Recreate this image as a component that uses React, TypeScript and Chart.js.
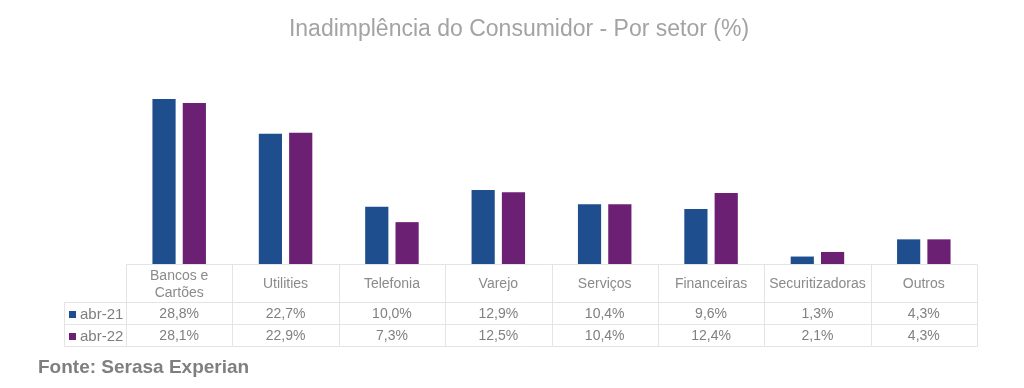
import React, { useEffect, useRef } from "react";
import { Chart, registerables } from "chart.js";

Chart.register(...registerables);

const TITLE = "Inadimplência do Consumidor - Por setor (%)";
const SOURCE = "Fonte: Serasa Experian";
const categories: (string | string[])[] = [
  ["Bancos e", "Cartões"],
  "Utilities",
  "Telefonia",
  "Varejo",
  "Serviços",
  "Financeiras",
  "Securitizadoras",
  "Outros",
];
const seriesNames = ["abr-21", "abr-22"];
const abr21 = [28.8, 22.7, 10.0, 12.9, 10.4, 9.6, 1.3, 4.3];
const abr22 = [28.1, 22.9, 7.3, 12.5, 10.4, 12.4, 2.1, 4.3];
const seriesColors = ["#1F4E8E", "#6B2073"];

const FONT = "'Liberation Sans', Arial, sans-serif";

const fmt = (v: number) => v.toFixed(1).replace(".", ",") + "%";

const tablePlugin = {
  id: "dataTable",
  afterDraw(chart: any) {
    const ctx = chart.ctx as CanvasRenderingContext2D;
    const x = chart.scales.x;
    const area = chart.chartArea;
    const n = categories.length;
    const half = (x.getPixelForValue(1) - x.getPixelForValue(0)) / 2;
    const left = x.getPixelForValue(0) - half;
    const right = x.getPixelForValue(n - 1) + half;
    const top = Math.round(area.bottom) + 0.5;
    const headerBottom = top + 38;
    const row1Bottom = headerBottom + 22;
    const row2Bottom = row1Bottom + 22;
    const legendLeft = 64.5;

    ctx.save();
    ctx.strokeStyle = "#e4e4e4";
    ctx.lineWidth = 1;
    ctx.beginPath();
    ctx.moveTo(left, top);
    ctx.lineTo(right, top);
    for (const yy of [headerBottom, row1Bottom, row2Bottom]) {
      ctx.moveTo(legendLeft, yy);
      ctx.lineTo(right, yy);
    }
    ctx.moveTo(legendLeft, headerBottom);
    ctx.lineTo(legendLeft, row2Bottom);
    for (let i = 0; i <= n; i++) {
      const bx = Math.round(left + i * half * 2) + 0.5;
      ctx.moveTo(bx, top);
      ctx.lineTo(bx, row2Bottom);
    }
    ctx.stroke();

    // header labels
    ctx.textAlign = "center";
    ctx.textBaseline = "middle";
    ctx.font = `14px ${FONT}`;
    ctx.fillStyle = "#8a8a8a";
    const headerMid = (top + headerBottom) / 2 + 1;
    categories.forEach((c, i) => {
      const cx = x.getPixelForValue(i);
      const lines = Array.isArray(c) ? c : [c];
      const lh = 17;
      lines.forEach((ln, j) => {
        const yy = headerMid + (j - (lines.length - 1) / 2) * lh;
        ctx.fillText(ln, cx, yy);
      });
    });

    // values
    const rows = [abr21, abr22];
    const rowMids = [(headerBottom + row1Bottom) / 2 + 1, (row1Bottom + row2Bottom) / 2 + 1];
    ctx.fillStyle = "#808080";
    rows.forEach((vals, r) => {
      vals.forEach((v, i) => {
        ctx.fillText(fmt(v), x.getPixelForValue(i), rowMids[r]);
      });
    });

    // legend keys
    ctx.textAlign = "left";
    ctx.font = `15px ${FONT}`;
    seriesNames.forEach((name, r) => {
      ctx.fillStyle = seriesColors[r];
      ctx.fillRect(69, Math.round(rowMids[r]) - 4, 7, 7);
      ctx.fillStyle = "#7f7f7f";
      ctx.fillText(name, 80, rowMids[r]);
    });

    // source
    ctx.font = `bold 19px ${FONT}`;
    ctx.fillStyle = "#7f7f7f";
    ctx.fillText(SOURCE, 38, 368);
    ctx.restore();
  },
};

export default function App() {
  const ref = useRef<HTMLCanvasElement | null>(null);
  useEffect(() => {
    if (!ref.current) return;
    const chart = new Chart(ref.current, {
      type: "bar",
      data: {
        labels: categories as any,
        datasets: [
          {
            label: seriesNames[0],
            data: abr21,
            backgroundColor: seriesColors[0],
            categoryPercentage: 0.57,
            barPercentage: 0.765,
          },
          {
            label: seriesNames[1],
            data: abr22,
            backgroundColor: seriesColors[1],
            categoryPercentage: 0.57,
            barPercentage: 0.765,
          },
        ],
      },
      options: {
        responsive: false,
        animation: false,
        layout: { padding: { left: 14, right: 0, top: 0, bottom: 124 } },
        plugins: {
          legend: { display: false },
          tooltip: { enabled: false },
          title: {
            display: true,
            text: TITLE,
            color: "#a3a3a3",
            font: { family: FONT, size: 23, weight: "normal" as any, lineHeight: 1.2 },
            padding: { top: 16.2, bottom: 48.2 },
          },
        },
        scales: {
          x: { display: false },
          y: {
            display: true,
            position: "left",
            min: 0,
            max: 30,
            ticks: { display: false },
            grid: { display: false },
            border: { display: false },
            afterFit: (s: any) => {
              s.width = 112;
            },
          },
          y2: {
            type: "linear",
            display: true,
            position: "right",
            ticks: { display: false },
            grid: { display: false },
            border: { display: false },
            afterFit: (s: any) => {
              s.width = 47;
            },
          },
        },
      },
      plugins: [tablePlugin],
    });
    return () => chart.destroy();
  }, []);
  return (
    <div style={{ position: "absolute", left: 0, top: 0, width: 1024, height: 388, background: "#fff" }}>
      <canvas ref={ref} width={1024} height={388} />
    </div>
  );
}
